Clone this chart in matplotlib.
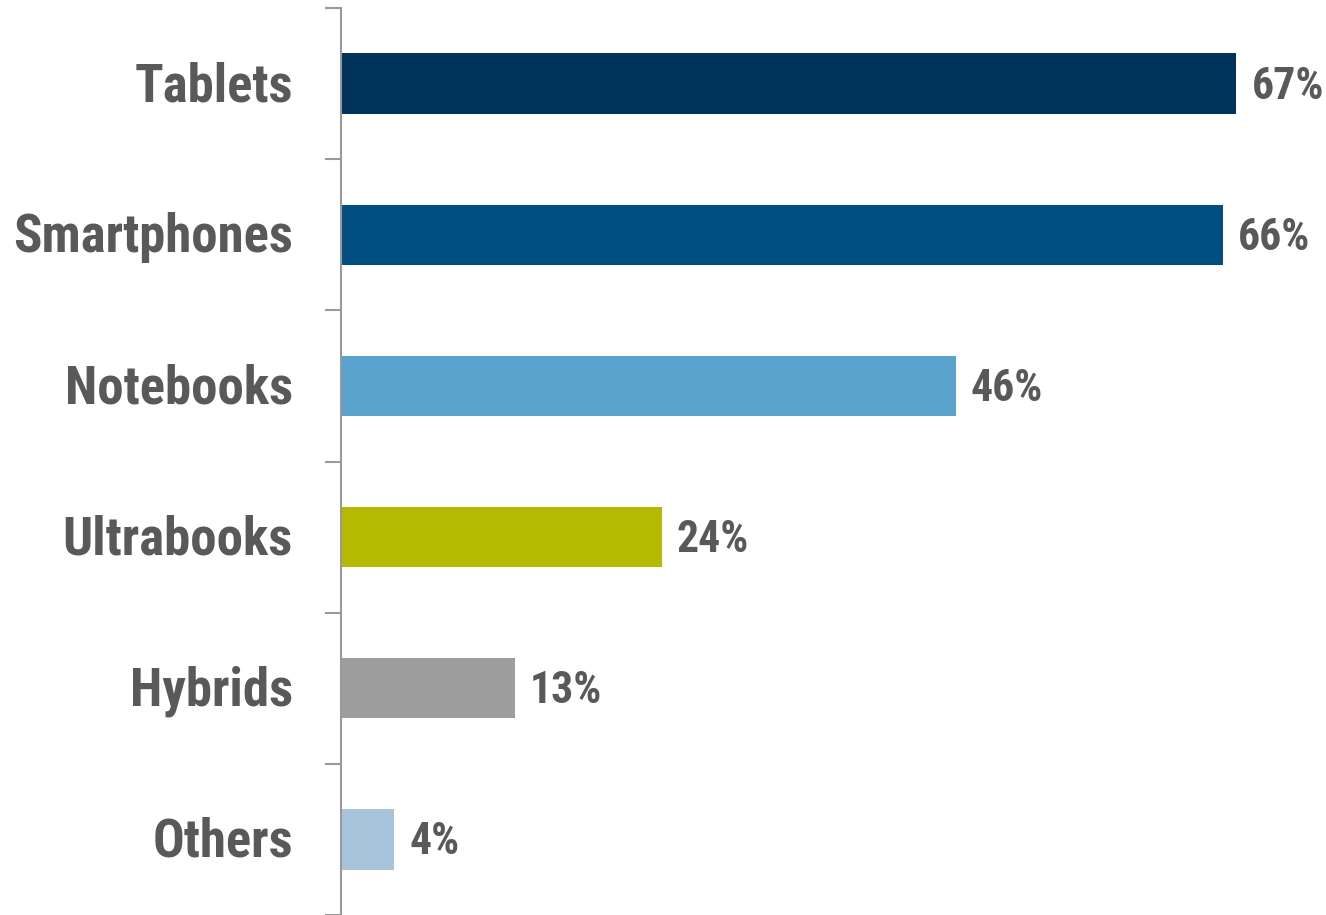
import matplotlib
matplotlib.use("Agg")
import matplotlib.pyplot as plt

categories = ["Tablets", "Smartphones", "Notebooks", "Ultrabooks", "Hybrids", "Others"]
values = [67, 66, 46, 24, 13, 4]
value_labels = ["67%", "66%", "46%", "24%", "13%", "4%"]
colors = ["#003359", "#004F80", "#5BA3CF", "#B5BA00", "#9E9E9E", "#A7C4DB"]

plt.rcParams["font.family"] = ["Roboto Condensed", "PT Sans Narrow", "DejaVu Sans"]

text_color = "#595959"
W, H, DPI = 1326, 915, 100
fig = plt.figure(figsize=(W / DPI, H / DPI), dpi=DPI)
ax = fig.add_axes([341 / W, 0 / H, (W - 341) / W, 907 / H])

ypos = list(range(len(categories)))
ax.barh(ypos, values, height=0.4, color=colors, zorder=2)
ax.set_ylim(len(categories) - 0.5, -0.5)
ax.set_xlim(0, 73.7)

for y, v, lab in zip(ypos, values, value_labels):
    ax.annotate(lab, xy=(v, y), xytext=(15, -3), textcoords="offset pixels",
                ha="left", va="center", fontsize=31.5, fontweight="bold",
                color=text_color)

for y, lab in zip(ypos, categories):
    ax.annotate(lab, xy=(0, y), xytext=(-48, -3), textcoords="offset pixels",
                xycoords=("axes fraction", "data"),
                ha="right", va="center", fontsize=38, fontweight="bold",
                color=text_color)

ax.set_yticks([i - 0.5 for i in range(len(categories) + 1)])
ax.set_yticklabels([])
ax.tick_params(axis="y", length=11.5, width=1.5, color="#999999", direction="out")
ax.set_xticks([])
for side in ["top", "right", "bottom"]:
    ax.spines[side].set_visible(False)
ax.spines["left"].set_color("#999999")
ax.spines["left"].set_linewidth(1.5)

fig.savefig("out.png", dpi=DPI)
